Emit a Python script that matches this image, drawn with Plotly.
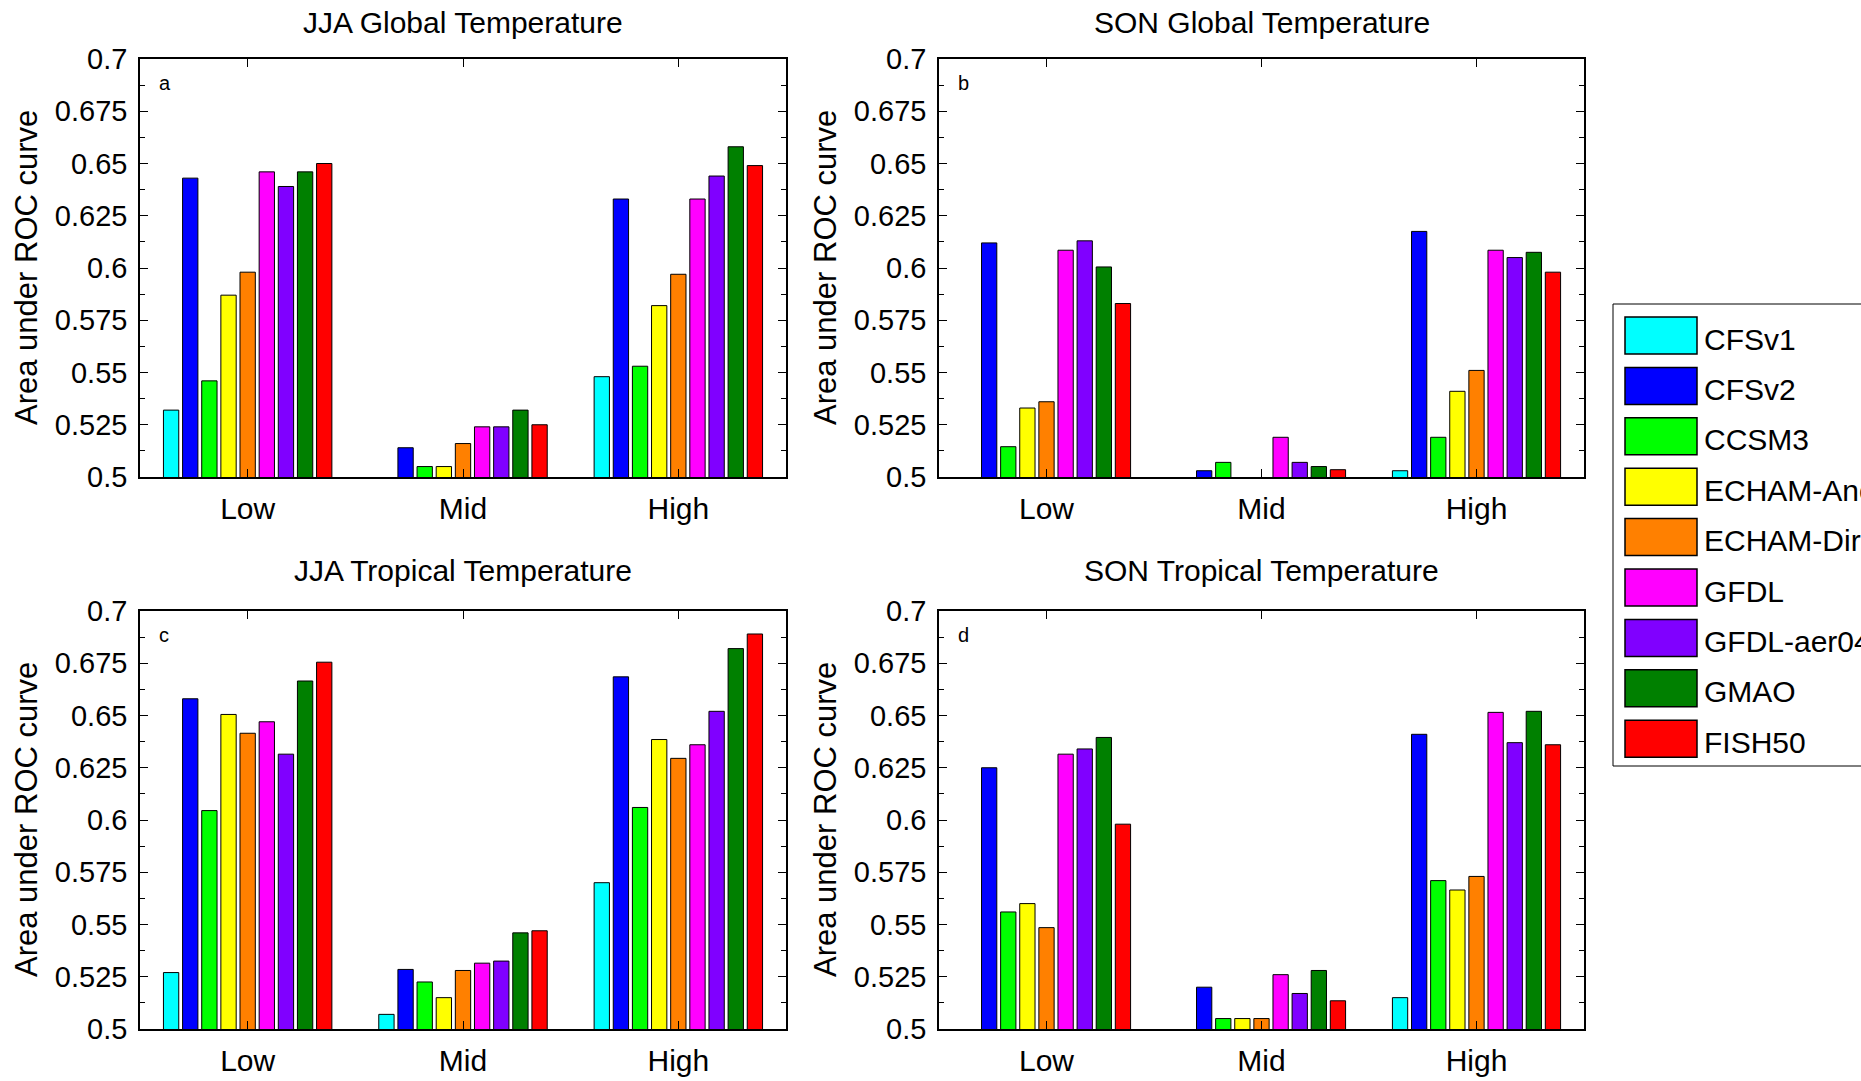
import plotly.graph_objects as go

# ---------------- data ----------------
categories = ["Low", "Mid", "High"]
models = ["CFSv1", "CFSv2", "CCSM3", "ECHAM-Anom", "ECHAM-Direct",
          "GFDL", "GFDL-aer04", "GMAO", "FISH50"]
colors = ["#00FFFF", "#0000FF", "#00FF00", "#FFFF00", "#FF8000",
          "#FF00FF", "#8000FF", "#008000", "#FF0000"]

# rows = models (same order as `models`), columns = Low, Mid, High
# None = value below the 0.5 axis floor (not visible)
jja_global = [
    [0.532, None, 0.548],
    [0.643, 0.514, 0.633],
    [0.546, 0.505, 0.553],
    [0.587, 0.505, 0.582],
    [0.598, 0.516, 0.597],
    [0.646, 0.524, 0.633],
    [0.639, 0.524, 0.644],
    [0.646, 0.532, 0.658],
    [0.650, 0.525, 0.649],
]
son_global = [
    [None, None, 0.503],
    [0.612, 0.503, 0.6175],
    [0.5145, 0.507, 0.519],
    [0.533, None, 0.541],
    [0.536, None, 0.551],
    [0.6085, 0.519, 0.6085],
    [0.613, 0.507, 0.605],
    [0.6005, 0.505, 0.6075],
    [0.583, 0.5035, 0.598],
]
jja_tropical = [
    [0.527, 0.507, 0.570],
    [0.658, 0.5285, 0.6685],
    [0.6045, 0.5225, 0.606],
    [0.6505, 0.515, 0.6385],
    [0.6415, 0.528, 0.6295],
    [0.647, 0.5315, 0.636],
    [0.6315, 0.5325, 0.652],
    [0.6665, 0.546, 0.682],
    [0.6755, 0.547, 0.689],
]
son_tropical = [
    [None, None, 0.515],
    [0.625, 0.520, 0.641],
    [0.556, 0.505, 0.571],
    [0.560, 0.505, 0.5665],
    [0.5485, 0.505, 0.573],
    [0.6315, 0.526, 0.6515],
    [0.634, 0.517, 0.637],
    [0.6395, 0.528, 0.652],
    [0.598, 0.5135, 0.636],
]

panel_titles = ["JJA Global Temperature", "SON Global Temperature",
                "JJA Tropical Temperature", "SON Tropical Temperature"]
panel_letters = ["a", "b", "c", "d"]
y_tickvals = [0.5, 0.525, 0.55, 0.575, 0.6, 0.625, 0.65, 0.675, 0.7]
y_ticktext = ["0.5", "0.525", "0.55", "0.575", "0.6", "0.625", "0.65", "0.675", "0.7"]
y_title = "Area under ROC curve"

# ---------------- layout geometry (window pixels) ----------------
W, H = 1861, 1081
FONT = "Liberation Sans, Arial, Helvetica, sans-serif"
col_x = [(140, 786), (939, 1584)]
row_y = [(59, 477), (611, 1029)]
title_y = [22, 570]


def px(x):
    return x / W


def py(y):
    return 1 - y / H


fig = go.Figure()
panels = [jja_global, son_global, jja_tropical, son_tropical]
minor_vals = [(a + b) / 2 for a, b in zip(y_tickvals[:-1], y_tickvals[1:])]

annotations = []
for p, data in enumerate(panels):
    r, c = divmod(p, 2)
    sfx = "" if p == 0 else str(p + 1)
    for i, m in enumerate(models):
        fig.add_trace(go.Bar(
            x=categories, y=data[i], name=m,
            marker=dict(color=colors[i], line=dict(color="black", width=1)),
            xaxis="x" + sfx, yaxis="y" + sfx, showlegend=False,
        ))
    x0, x1 = col_x[c]
    y0, y1 = row_y[r]
    fig.layout["xaxis" + sfx] = dict(
        domain=[px(x0), px(x1)], anchor="y" + sfx, type="category",
        range=[-0.5, 2.5], showline=True, linecolor="black", linewidth=1.5,
        mirror="ticks", ticks="inside", ticklen=8, tickwidth=1, tickcolor="black",
        tickfont=dict(family=FONT, size=30, color="black"),
        showgrid=False, zeroline=False, ticklabelstandoff=4, automargin=False,
    )
    fig.layout["yaxis" + sfx] = dict(
        domain=[py(y1), py(y0)], anchor="x" + sfx, range=[0.5, 0.7],
        tickmode="array", tickvals=y_tickvals, ticktext=y_ticktext,
        showline=True, linecolor="black", linewidth=1.5,
        mirror="ticks", ticks="inside", ticklen=8, tickwidth=1, tickcolor="black",
        tickfont=dict(family=FONT, size=29, color="black"),
        showgrid=False, zeroline=False, ticklabelstandoff=5, automargin=False,
        minor=dict(tickmode="array", tickvals=minor_vals, ticks="inside",
                   ticklen=5, tickwidth=1, tickcolor="black", showgrid=False),
    )
    # panel title
    annotations.append(dict(
        text=panel_titles[p], xref="paper", yref="paper",
        x=px((x0 + x1) / 2), y=py(title_y[r]), xanchor="center", yanchor="middle",
        showarrow=False, font=dict(family=FONT, size=30, color="black"),
    ))
    # y axis title
    annotations.append(dict(
        text=y_title, xref="paper", yref="paper", textangle=-90,
        x=px(x0 - 114), y=py((y0 + y1) / 2), xanchor="center", yanchor="middle",
        showarrow=False, font=dict(family=FONT, size=31, color="black"),
    ))
    # panel letter
    annotations.append(dict(
        text=panel_letters[p], xref="paper", yref="paper",
        x=px(x0 + 17), y=py(y0 + 24), xanchor="left", yanchor="middle",
        showarrow=False, font=dict(family=FONT, size=20, color="black"),
    ))

# ---------------- legend (drawn box, clipped at right edge as in reference) ----------------
shapes = [dict(type="rect", xref="paper", yref="paper",
               x0=px(1613), x1=px(1950), y0=py(766), y1=py(304),
               line=dict(color="black", width=1), fillcolor="white", layer="below")]
for i, m in enumerate(models):
    top = 317 + i * 50.4
    shapes.append(dict(type="rect", xref="paper", yref="paper",
                       x0=px(1625), x1=px(1697), y0=py(top + 37), y1=py(top),
                       line=dict(color="black", width=1.5), fillcolor=colors[i]))
    annotations.append(dict(
        text=m, xref="paper", yref="paper", x=px(1702), y=py(top + 22),
        xanchor="left", yanchor="middle", showarrow=False,
        font=dict(family=FONT, size=30, color="black"),
    ))

fig.update_layout(
    template="none",
    width=W, height=H, autosize=False,
    margin=dict(l=0, r=0, t=0, b=0, pad=0),
    paper_bgcolor="white", plot_bgcolor="white",
    barmode="group", bargap=0.2, bargroupgap=0.2,
    showlegend=False, annotations=annotations, shapes=shapes,
    font=dict(family=FONT, color="black"),
)

# remove the default 8px page margin so the figure fills the window exactly
fig.write_html(
    "out.html",
    config={"displayModeBar": False},
    post_script="document.body.style.margin='0';document.body.style.overflow='hidden';",
)
